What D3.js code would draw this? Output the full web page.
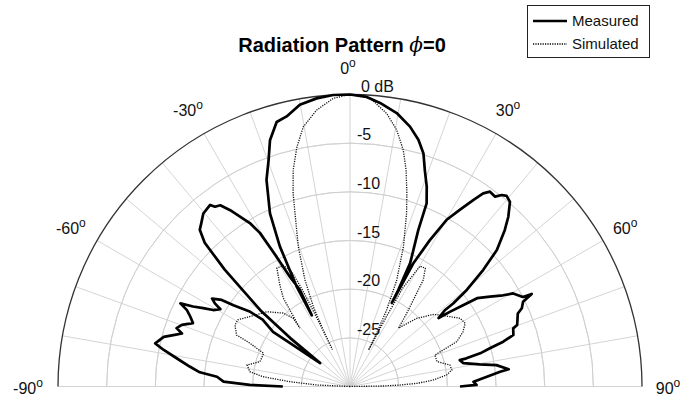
<!DOCTYPE html>
<html>
<head>
<meta charset="utf-8">
<script src="https://cdn.jsdelivr.net/npm/d3@7"></script>
<style>
  body { margin: 0; background: #fff; }
  text { font-family: Arial, "Liberation Sans", sans-serif; }
</style>
</head>
<body>
<div id="main"></div>
<script>
// --- chart data: [angle in degrees, level in dB]
const angleTicks = [-90, -60, -30, 0, 30, 60, 90];
const dbTicks = [-25, -20, -15, -10, -5, 0];
const gridAngles = d3.range(-90, 91, 10);

const measured = [
  [-90, -23.1], [-89.1, -19.7], [-87.8, -17.0], [-85.8, -16.3], [-84.6, -14.5], [-82.9, -13.4],
  [-80.8, -12.0], [-78.9, -10.5], [-77.5, -9.5], [-75.1, -10.2], [-73.8, -11.1], [-72.5, -11.9],
  [-71.4, -11.2], [-69.9, -11.6], [-68.0, -12.6], [-66.4, -12.1], [-64.9, -11.5], [-63.9, -10.6],
  [-63.0, -11.9], [-61.9, -12.9], [-60.8, -13.9], [-59.2, -14.5], [-58.4, -13.7], [-57.5, -13.2],
  [-56.0, -14.1], [-55.1, -15.4], [-53.2, -17.2], [-52.6, -18.7], [-54.6, -20.3], [-54.1, -22.4],
  [-51.9, -26.1], [-51.0, -22.1], [-49.6, -17.9], [-47.0, -12.4], [-45.3, -9.0], [-43.8, -7.7],
  [-42.3, -7.3], [-40.3, -6.7], [-37.6, -6.45], [-36.9, -6.9], [-35.6, -7.1], [-34.2, -8.1],
  [-31.5, -10.3], [-30.4, -11.7], [-29.5, -14.7], [-28.7, -17.2], [-27.4, -18.8], [-28.2, -21.7],
  [-28.1, -18.4], [-26.6, -13.9], [-24.8, -10.4], [-22.0, -7.1], [-19.8, -5.3], [-18.0, -3.4],
  [-15.5, -1.8], [-13.2, -1.5], [-10.1, -0.6], [-6.6, -0.2], [-3.3, 0], [0, 0], [3.3, -0.2],
  [6.05, -0.7], [9.7, -1.5], [13.0, -2.6], [15.5, -3.7], [17.5, -4.9], [19.1, -6.5], [21.0, -8.0],
  [22.7, -9.6], [23.6, -12.5], [26.0, -15.9], [26.6, -18.9], [26.6, -20.4],
  [27.2, -15.8], [28.6, -12.9], [30.1, -10.2], [31.9, -8.6], [33.5, -7.0], [34.6, -5.9],
  [35.7, -5.35], [37.4, -5.45], [38.4, -4.9], [39.4, -4.65], [40.9, -4.9], [43.0, -6.15],
  [44.7, -7.4], [47.1, -9.4], [48.8, -11.8], [50.4, -14.4], [51.2, -16.4], [51.2, -17.5],
  [52.3, -18.5], [53.2, -17.2], [54.3, -15.7], [55.2, -14.1], [57.3, -12.9], [59.2, -11.7],
  [60.3, -10.7], [62.6, -10.0], [63.0, -9.05], [63.9, -10.2], [65.5, -10.6], [66.5, -11.2],
  [69.8, -11.7], [70.4, -12.2], [72.5, -12.4], [73.7, -13.6], [74.7, -15.1], [75.7, -16.2],
  [76.4, -17.7], [76.5, -18.4], [78.4, -18.1], [80.3, -16.5], [81.7, -14.8], [83.8, -13.6],
  [84.4, -14.5], [85.9, -15.9], [87.8, -17.3], [89.3, -17.0], [90, -18.7]
];

const simulated = [
  [-90, -30], [-87.4, -26.6], [-85.4, -23.8], [-83.6, -21.0], [-81.6, -19.6], [-78.2, -19.2],
  [-74.6, -20.4], [-69.0, -20.5], [-66.6, -18.8], [-65.6, -17.2], [-61.9, -16.6], [-59.2, -16.6],
  [-52.5, -17.9], [-48.1, -18.5], [-42.3, -19.8], [-39.7, -20.9], [-40.7, -22.1],
  [-37.0, -18.6], [-34.6, -17.3], [-31.7, -15.7], [-28.8, -15.8], [-26.9, -16.8], [-26.2, -19.0],
  [-25.8, -22.0], [-25.5, -25.8], [-25.3, -23.6], [-24.7, -21.0], [-22.9, -18.1], [-20.3, -14.7],
  [-17.6, -11.3], [-16.4, -9.3], [-14.7, -7.0], [-12.5, -4.8], [-10.2, -2.9], [-6.9, -1.4],
  [-3.3, -0.34], [0, 0], [4.0, -0.3], [7.65, -1.7], [10.3, -3.2], [12.7, -5.1], [14.5, -7.0],
  [16.4, -9.3], [18.1, -11.3], [20.9, -14.6], [23.7, -18.05], [25.6, -21.3], [26.6, -23.9],
  [27.0, -25.8], [27.5, -22.0], [28.2, -18.5], [30.2, -15.7], [32.5, -15.6], [34.5, -16.7],
  [35.3, -17.9], [37.8, -20.5], [39.7, -22.2], [44.4, -20.2], [49.1, -18.7], [51.5, -18.2],
  [58.2, -16.7], [61.2, -16.5], [64.2, -17.1], [67.2, -18.1], [68.6, -19.7], [69.7, -20.7],
  [74.0, -20.7], [77.9, -19.5], [80.8, -19.4], [83.2, -20.0], [85.5, -21.4], [87.3, -23.1],
  [88.3, -24.9], [89.1, -26.6], [90, -30]
];

// --- layout
const width = 683, height = 401;
const cx = 350, cy = 386.5, R = 292;

const svg = d3.select('#main')
  .append('svg')
  .attr('width', width)
  .attr('height', height);

const rScale = d3.scaleLinear().domain([-30, 0]).range([0, R]);
const rad = d => d * Math.PI / 180;

const g = svg.append('g').attr('transform', `translate(${cx},${cy})`);

// rings
const arc = d3.arc().startAngle(rad(-90)).endAngle(rad(90));
g.selectAll('.ring')
  .data(dbTicks.filter(d => d < 0))
  .enter()
  .append('path')
  .attr('d', d => arc({ innerRadius: rScale(d), outerRadius: rScale(d) }))
  .attr('fill', 'none')
  .attr('stroke', '#cfcfcf')
  .attr('stroke-width', 0.9);

// spokes
g.selectAll('.spoke')
  .data(gridAngles)
  .enter()
  .append('line')
  .attr('x1', 0).attr('y1', 0)
  .attr('x2', d => R * Math.sin(rad(d)))
  .attr('y2', d => -R * Math.cos(rad(d)))
  .attr('stroke', '#cfcfcf')
  .attr('stroke-width', 0.9);

// outer boundary
g.append('path')
  .attr('d', arc({ innerRadius: R, outerRadius: R }))
  .attr('fill', 'none')
  .attr('stroke', '#333')
  .attr('stroke-width', 1.3);

// radial tick labels
g.selectAll('.rlabel')
  .data(dbTicks)
  .enter()
  .append('text')
  .attr('x', d => d === 0 ? 11 : 7)
  .attr('y', d => -rScale(d) - 3)
  .attr('font-size', 16)
  .attr('fill', '#111')
  .text(d => d === 0 ? '0 dB' : d);

// angle labels
const alabel = g.selectAll('.alabel')
  .data(angleTicks)
  .enter()
  .append('text')
  .attr('x', d => 320 * Math.sin(rad(d)) - 2)
  .attr('y', d => -320 * Math.cos(rad(d)) + 7)
  .attr('text-anchor', 'middle')
  .attr('font-size', 16)
  .attr('fill', '#111');
alabel.append('tspan').text(d => d);
alabel.append('tspan').attr('dy', -7).attr('font-size', 12).text('o');

// curves
const line = d3.lineRadial()
  .angle(d => rad(d[0]))
  .radius(d => rScale(Math.max(-30, d[1])));

g.append('path')
  .datum(simulated)
  .attr('d', line)
  .attr('fill', 'none')
  .attr('stroke', '#111')
  .attr('stroke-width', 1.3)
  .attr('stroke-dasharray', '1.2,1.2');

g.append('path')
  .datum(measured)
  .attr('d', line)
  .attr('fill', 'none')
  .attr('stroke', '#000')
  .attr('stroke-width', 2.7)
  .attr('stroke-linejoin', 'round');

// title
const title = svg.append('text')
  .attr('x', 342)
  .attr('y', 52)
  .attr('text-anchor', 'middle')
  .attr('font-size', 20)
  .attr('font-weight', 'bold')
  .attr('fill', '#000');
title.append('tspan').text('Radiation Pattern ');
title.append('tspan').attr('font-style', 'italic').attr('font-family', 'DejaVu Serif, serif').attr('font-weight', 'normal').text('ϕ');
title.append('tspan').text('=0');

// legend
const legend = svg.append('g');
legend.append('rect')
  .attr('x', 527.5).attr('y', 5.5)
  .attr('width', 122).attr('height', 52)
  .attr('fill', '#fff')
  .attr('stroke', '#222');
const legendItems = [
  { name: 'Measured', width: 2.7, dash: null, y: 21 },
  { name: 'Simulated', width: 1.3, dash: '1.2,1.2', y: 44 }
];
legendItems.forEach(d => {
  legend.append('line')
    .attr('x1', 533).attr('x2', 567)
    .attr('y1', d.y).attr('y2', d.y)
    .attr('stroke', '#000')
    .attr('stroke-width', d.width)
    .attr('stroke-dasharray', d.dash);
  legend.append('text')
    .attr('x', 572).attr('y', d.y + 5)
    .attr('font-size', 15)
    .attr('fill', '#111')
    .text(d.name);
});
</script>
</body>
</html>
